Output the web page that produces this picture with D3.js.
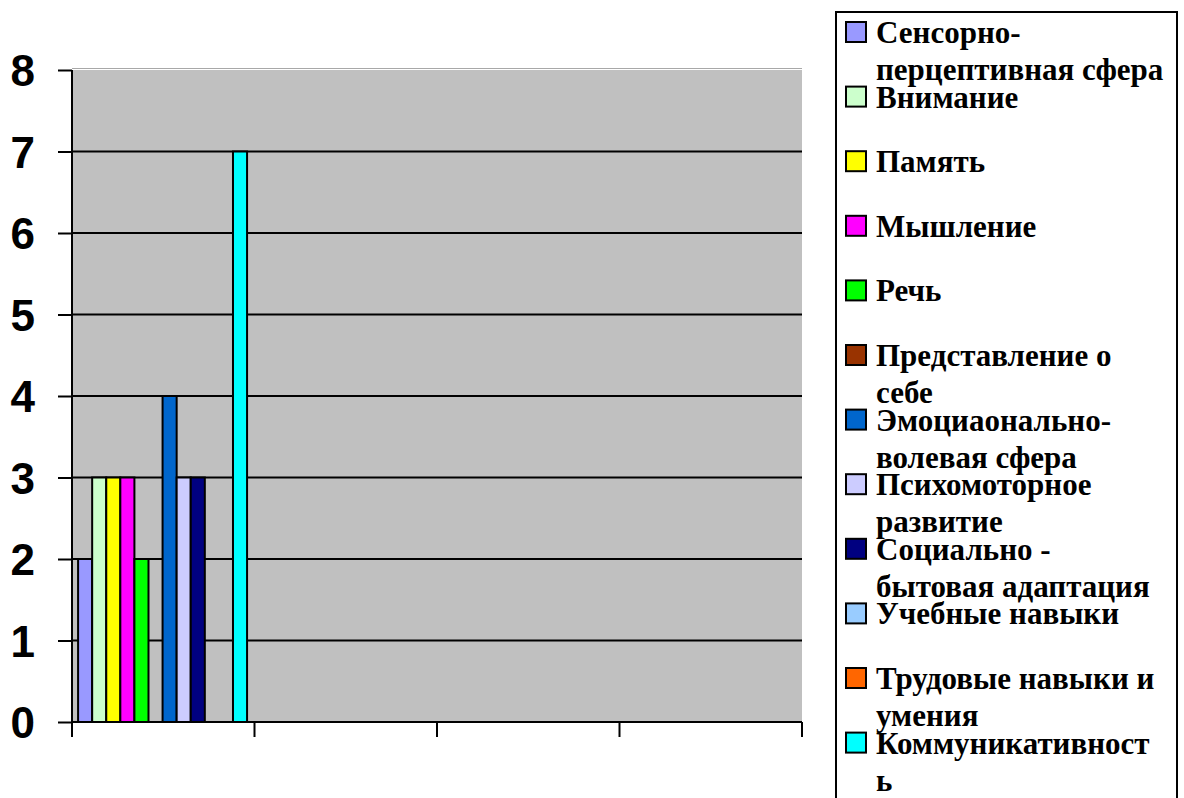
<!DOCTYPE html>
<html>
<head>
<meta charset="utf-8">
<script src="https://cdn.jsdelivr.net/npm/d3@7"></script>
<style>
  body { margin: 0; background: #fff; }
  svg { display: block; }
</style>
</head>
<body>
<div id="chart"></div>
<script>
// categories on x (no labels in the original, only the first one has data)
var categories = ["1", "2", "3", "4"];
// series names, split into the lines shown in the legend box
var seriesNames = [
  ["Сенсорно-", "перцептивная сфера"],
  ["Внимание"],
  ["Память"],
  ["Мышление"],
  ["Речь"],
  ["Представление о", "себе"],
  ["Эмоциаонально-", "волевая сфера"],
  ["Психомоторное", "развитие"],
  ["Социально -", "бытовая адаптация"],
  ["Учебные навыки"],
  ["Трудовые навыки и", "умения"],
  ["Коммуникативност", "ь"]
];
var seriesValues = [2, 3, 3, 3, 2, 0, 4, 3, 3, 0, 0, 7]; // values for the first category
var seriesColors = ["#9999FF", "#CCFFCC", "#FFFF00", "#FF00FF", "#00FF00", "#993300",
                    "#0066CC", "#CCCCFF", "#000080", "#99CCFF", "#FF6600", "#00FFFF"];
var yTicks = [0, 1, 2, 3, 4, 5, 6, 7, 8];

var width = 1184, height = 798;
var plot = { left: 72, right: 802, top: 70, bottom: 722 };

var svg = d3.select("#chart").append("svg")
  .attr("width", width)
  .attr("height", height);

var x = d3.scaleBand()
  .domain(categories)
  .range([plot.left, plot.right])
  .paddingInner(0).paddingOuter(0);

var xs = d3.scaleBand()
  .domain(d3.range(seriesNames.length))
  .range([0, x.bandwidth()])
  .paddingInner(0).paddingOuter(0.48).align(0.45);

var y = d3.scaleLinear().domain([0, 8]).range([plot.bottom, plot.top]);

// plot area
svg.append("rect")
  .attr("x", plot.left).attr("y", plot.top)
  .attr("width", plot.right - plot.left).attr("height", plot.bottom - plot.top)
  .attr("fill", "#C0C0C0");
svg.append("line")
  .attr("x1", plot.left).attr("x2", plot.right)
  .attr("y1", plot.top - 1.5).attr("y2", plot.top - 1.5)
  .attr("stroke", "#a8a8a8").attr("stroke-width", 1);

// gridlines
svg.append("g").selectAll("line")
  .data(yTicks.filter(function(d) { return d > 0 && d < 8; }))
  .enter().append("line")
  .attr("x1", plot.left).attr("x2", plot.right)
  .attr("y1", function(d) { return y(d); }).attr("y2", function(d) { return y(d); })
  .attr("stroke", "#000").attr("stroke-width", 2);

// bars, only first category has data
var rows = seriesValues.map(function(v, i) { return { cat: categories[0], i: i, value: v }; });
svg.append("g").selectAll("rect")
  .data(rows.filter(function(d) { return d.value > 0; }))
  .enter().append("rect")
  .attr("x", function(d) { return x(d.cat) + xs(d.i); })
  .attr("y", function(d) { return y(d.value); })
  .attr("width", xs.bandwidth())
  .attr("height", function(d) { return y(0) - y(d.value); })
  .attr("fill", function(d) { return seriesColors[d.i]; })
  .attr("stroke", "#000")
  .attr("stroke-width", 2);

// y axis
var yAxis = svg.append("g")
  .attr("transform", "translate(" + plot.left + ",0)")
  .call(d3.axisLeft(y).tickValues(yTicks).tickSize(14).tickPadding(23).tickFormat(d3.format("d")));
yAxis.select(".domain").attr("stroke", "#000").attr("stroke-width", 2).attr("d", "M0," + plot.top + "V" + plot.bottom);
yAxis.selectAll(".tick line").attr("stroke", "#000").attr("stroke-width", 2);
yAxis.selectAll(".tick text")
  .attr("fill", "#000")
  .style("font-family", "Arial, 'Liberation Sans', sans-serif")
  .style("font-weight", "bold")
  .style("font-size", "44px")
  .attr("dy", "0.36em");

// x axis: ticks on category boundaries, no labels
var bounds = categories.map(function(c) { return x(c); }).concat([plot.right]);
svg.append("line")
  .attr("x1", plot.left).attr("x2", plot.right)
  .attr("y1", plot.bottom).attr("y2", plot.bottom)
  .attr("stroke", "#000").attr("stroke-width", 2);
svg.append("g").selectAll("line")
  .data(bounds)
  .enter().append("line")
  .attr("x1", function(d) { return d; }).attr("x2", function(d) { return d; })
  .attr("y1", plot.bottom).attr("y2", plot.bottom + 15)
  .attr("stroke", "#000").attr("stroke-width", 2);

// legend
var lg = svg.append("g");
lg.append("rect")
  .attr("x", 836).attr("y", 12)
  .attr("width", 341).attr("height", 820)
  .attr("fill", "#fff").attr("stroke", "#000").attr("stroke-width", 2);

var entries = lg.selectAll("g.entry")
  .data(seriesNames)
  .enter().append("g").attr("class", "entry")
  .attr("transform", function(d, i) { return "translate(0," + (43 + i * 64.6) + ")"; });

entries.append("rect")
  .attr("x", 846).attr("y", -21)
  .attr("width", 20).attr("height", 20)
  .attr("fill", function(d, i) { return seriesColors[i]; })
  .attr("stroke", "#000").attr("stroke-width", 2);

entries.append("text")
  .attr("fill", "#000")
  .style("font-family", "'Times New Roman', 'Liberation Serif', serif")
  .style("font-weight", "bold").style("font-size", "31px")
  .selectAll("tspan")
  .data(function(d) { return d; })
  .enter().append("tspan")
  .attr("x", 876)
  .attr("y", function(d, k) { return k * 37; })
  .text(function(d) { return d; });
</script>
</body>
</html>
